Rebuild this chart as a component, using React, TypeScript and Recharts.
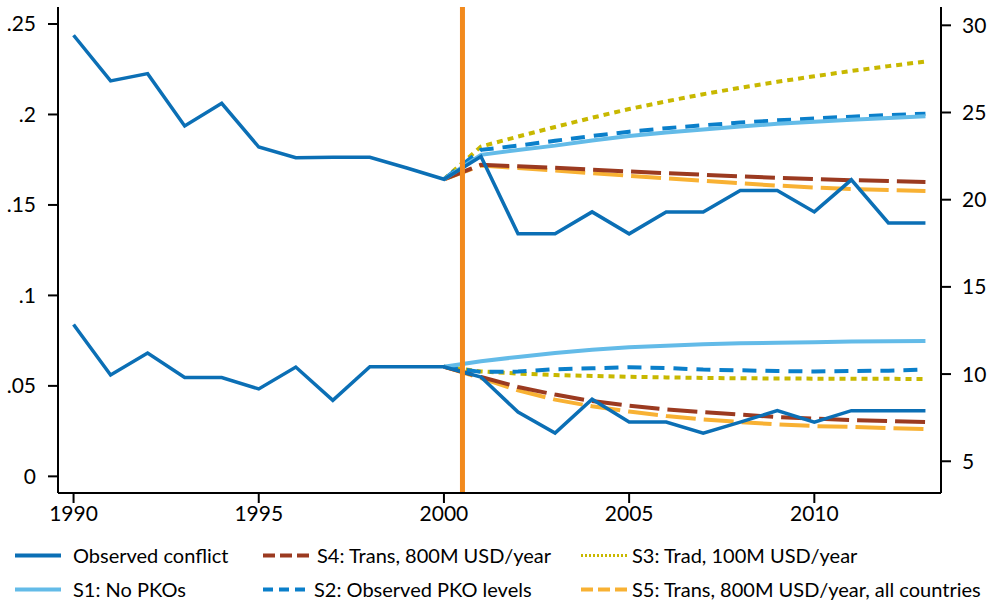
import React from "react";
import { LineChart, Line, XAxis, YAxis, ReferenceLine } from "recharts";

// years on the x axis
const years = [
  1990, 1991, 1992, 1993, 1994, 1995, 1996, 1997, 1998, 1999, 2000, 2001,
  2002, 2003, 2004, 2005, 2006, 2007, 2008, 2009, 2010, 2011, 2012, 2013,
];
const scenarioYears = [
  2000, 2001, 2002, 2003, 2004, 2005, 2006, 2007, 2008, 2009, 2010, 2011, 2012,
  2013,
];

// upper group -> right axis, lower group -> left axis
const observedUpper = [
  29.43, 26.81, 27.23, 24.23, 25.53, 23.02, 22.41, 22.43, 22.43, 21.82, 21.17,
  22.48, 18.04, 18.04, 19.3, 18.04, 19.3, 19.3, 20.53, 20.53, 19.3, 21.14,
  18.67, 18.67,
];
const observedLower = [
  0.0839, 0.056, 0.0682, 0.0547, 0.0546, 0.0483, 0.0604, 0.042, 0.0606, 0.0606,
  0.0606, 0.0549, 0.0355, 0.0239, 0.0426, 0.03, 0.03, 0.0239, 0.03, 0.0363,
  0.03, 0.0363, 0.0363, 0.0363,
];

const s1Upper = [
  21.17, 22.57, 22.85, 23.1, 23.4, 23.65, 23.85, 24.03, 24.2, 24.35, 24.47,
  24.58, 24.68, 24.78,
];
const s1Lower = [
  0.0606, 0.0636, 0.066, 0.0682, 0.07, 0.0713, 0.0722, 0.073, 0.0735, 0.0739,
  0.0741, 0.0745, 0.0746, 0.0748,
];
const s2Upper = [
  21.17, 22.86, 23.1, 23.38, 23.65, 23.9, 24.1, 24.27, 24.42, 24.55, 24.66,
  24.76, 24.85, 24.93,
];
const s2Lower = [
  0.0606, 0.0577, 0.0579, 0.0592, 0.0597, 0.0603, 0.0599, 0.059, 0.0586, 0.0582,
  0.058, 0.0582, 0.0584, 0.059,
];
const s3Upper = [
  21.17, 23.05, 23.62, 24.17, 24.7, 25.2, 25.64, 26.05, 26.42, 26.76, 27.08,
  27.38, 27.66, 27.92,
];
const s3Lower = [
  0.0606, 0.058, 0.0568, 0.056, 0.0555, 0.055, 0.0547, 0.0544, 0.0542, 0.0541,
  0.054, 0.0539, 0.0539, 0.0538,
];
const s4Upper = [
  21.17, 22.0, 21.92, 21.83, 21.72, 21.62, 21.52, 21.43, 21.34, 21.26, 21.19,
  21.12, 21.07, 21.02,
];
const s4Lower = [
  0.0606, 0.0549, 0.0494, 0.0452, 0.0416, 0.0391, 0.037, 0.0355, 0.0341, 0.0328,
  0.0319, 0.0311, 0.0306, 0.03,
];
const s5Upper = [
  21.17, 21.96, 21.82, 21.68, 21.52, 21.37, 21.22, 21.08, 20.94, 20.81, 20.7,
  20.61, 20.55, 20.5,
];
const s5Lower = [
  0.0606, 0.0543, 0.0475, 0.0424, 0.0387, 0.0358, 0.0333, 0.0315, 0.03, 0.0287,
  0.0278, 0.0273, 0.0267, 0.0261,
];

const leftTicks = [0, 0.05, 0.1, 0.15, 0.2, 0.25];
const leftTickLabels = ["0", ".05", ".1", ".15", ".2", ".25"];
const rightTicks = [5, 10, 15, 20, 25, 30];
const xTicks = [1990, 1995, 2000, 2005, 2010];
const interventionYear = 2000.5;

const C = {
  obs: "#0b6fb5",
  s1: "#63bbe8",
  s2: "#0a7fca",
  s3: "#c8b800",
  s4: "#9b3a20",
  s5: "#f8b133",
  vline: "#f28a1d",
};

const pick = (arr: number[], year: number) => {
  const j = scenarioYears.indexOf(year);
  return j >= 0 ? arr[j] : null;
};

const data = years.map((year, i) => ({
  year,
  obsU: observedUpper[i],
  obsL: observedLower[i],
  s1U: pick(s1Upper, year),
  s1L: pick(s1Lower, year),
  s2U: pick(s2Upper, year),
  s2L: pick(s2Lower, year),
  s3U: pick(s3Upper, year),
  s3L: pick(s3Lower, year),
  s4U: pick(s4Upper, year),
  s4L: pick(s4Lower, year),
  s5U: pick(s5Upper, year),
  s5L: pick(s5Lower, year),
}));

const font = "Lato, 'Open Sans', sans-serif";
const tickStyle = { fill: "#000", fontSize: 21, fontFamily: font };
const axisLine = { stroke: "#000", strokeWidth: 2 };

const legendItems = [
  { label: "Observed conflict", color: C.obs, dash: "", x: 15, tx: 73, row: 0 },
  { label: "S4: Trans, 800M USD/year", color: C.s4, dash: "12 5", x: 263, tx: 317, row: 0 },
  { label: "S3: Trad, 100M USD/year", color: C.s3, dash: "2 2", x: 581, tx: 632, row: 0 },
  { label: "S1: No PKOs", color: C.s1, dash: "", x: 15, tx: 73, row: 1 },
  { label: "S2: Observed PKO levels", color: C.s2, dash: "10 6", x: 263, tx: 314, row: 1 },
  { label: "S5: Trans, 800M USD/year, all countries", color: C.s5, dash: "12 5", x: 581, tx: 632, row: 1 },
];
const rowTops = [543, 577];

export default function App() {
  return (
    <div
      style={{
        position: "absolute",
        left: 0,
        top: 0,
        width: 1000,
        height: 600,
        background: "#fff",
        fontFamily: font,
      }}
    >
      <LineChart
        width={1000}
        height={600}
        data={data}
        margin={{ top: 7, right: 0, bottom: 77, left: 0 }}
      >
        <XAxis
          dataKey="year"
          type="number"
          domain={[1989.58, 2013.42]}
          ticks={xTicks}
          allowDataOverflow
          interval={0}
          height={30}
          tickSize={10}
          tickMargin={3}
          axisLine={axisLine}
          tickLine={axisLine}
          tick={tickStyle}
        />
        <YAxis
          yAxisId="left"
          orientation="left"
          type="number"
          width={58}
          domain={[-0.0092, 0.2594]}
          ticks={leftTicks}
          allowDataOverflow
          interval={0}
          tickSize={10}
          tickMargin={12}
          axisLine={axisLine}
          tickLine={axisLine}
          tick={tickStyle}
          tickFormatter={(v: number) => leftTickLabels[leftTicks.indexOf(v)] ?? String(v)}
        />
        <YAxis
          yAxisId="right"
          orientation="right"
          type="number"
          width={59}
          domain={[3.18, 31.05]}
          ticks={rightTicks}
          allowDataOverflow
          interval={0}
          tickSize={10}
          tickMargin={11}
          axisLine={axisLine}
          tickLine={axisLine}
          tick={tickStyle}
        />

        {/* lower group */}
        <Line yAxisId="left" dataKey="s3L" stroke={C.s3} strokeWidth={4} strokeDasharray="6 5" dot={false} activeDot={false} isAnimationActive={false} />
        <Line yAxisId="left" dataKey="s5L" stroke={C.s5} strokeWidth={4} strokeDasharray="30 8" dot={false} activeDot={false} isAnimationActive={false} />
        <Line yAxisId="left" dataKey="s4L" stroke={C.s4} strokeWidth={4} strokeDasharray="30 8" dot={false} activeDot={false} isAnimationActive={false} />
        <Line yAxisId="left" dataKey="s2L" stroke={C.s2} strokeWidth={4} strokeDasharray="14 9" dot={false} activeDot={false} isAnimationActive={false} />
        <Line yAxisId="left" dataKey="s1L" stroke={C.s1} strokeWidth={4} dot={false} activeDot={false} isAnimationActive={false} />
        <Line yAxisId="left" dataKey="obsL" stroke={C.obs} strokeWidth={3.5} dot={false} activeDot={false} isAnimationActive={false} />

        {/* upper group */}
        <Line yAxisId="right" dataKey="s3U" stroke={C.s3} strokeWidth={4} strokeDasharray="6 5" dot={false} activeDot={false} isAnimationActive={false} />
        <Line yAxisId="right" dataKey="s5U" stroke={C.s5} strokeWidth={4} strokeDasharray="30 8" dot={false} activeDot={false} isAnimationActive={false} />
        <Line yAxisId="right" dataKey="s4U" stroke={C.s4} strokeWidth={4} strokeDasharray="30 8" dot={false} activeDot={false} isAnimationActive={false} />
        <Line yAxisId="right" dataKey="s2U" stroke={C.s2} strokeWidth={4} strokeDasharray="14 9" dot={false} activeDot={false} isAnimationActive={false} />
        <Line yAxisId="right" dataKey="s1U" stroke={C.s1} strokeWidth={4} dot={false} activeDot={false} isAnimationActive={false} />
        <Line yAxisId="right" dataKey="obsU" stroke={C.obs} strokeWidth={3.5} dot={false} activeDot={false} isAnimationActive={false} />

        <ReferenceLine yAxisId="left" x={interventionYear} stroke={C.vline} strokeWidth={5} />
      </LineChart>

      {legendItems.map((it) => (
        <React.Fragment key={it.label}>
          <svg
            width={48}
            height={24}
            style={{ position: "absolute", left: it.x, top: rowTops[it.row] }}
          >
            <line
              x1={0}
              x2={46}
              y1={12.5}
              y2={12.5}
              stroke={it.color}
              strokeWidth={it.dash === "2 2" ? 3 : 4}
              strokeDasharray={it.dash || undefined}
            />
          </svg>
          <div
            style={{
              position: "absolute",
              left: it.tx,
              top: rowTops[it.row],
              fontSize: 20,
              lineHeight: "24px",
              color: "#000",
              whiteSpace: "nowrap",
            }}
          >
            {it.label}
          </div>
        </React.Fragment>
      ))}
    </div>
  );
}
